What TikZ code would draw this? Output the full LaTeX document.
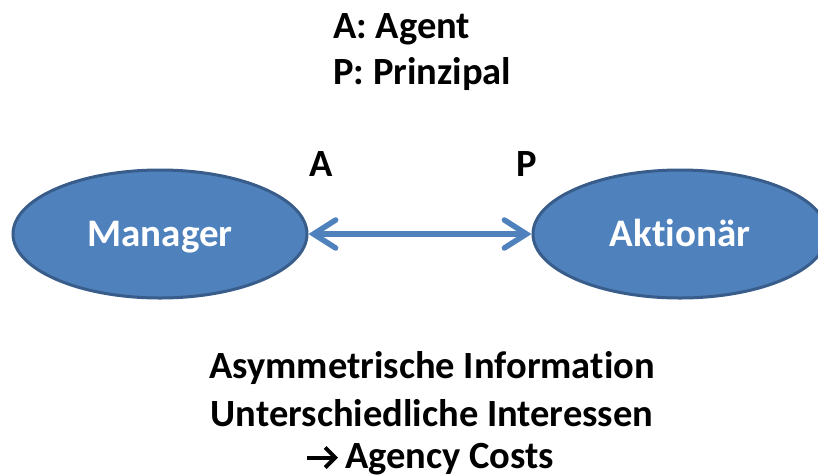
\documentclass[tikz,border=0pt]{standalone}
\usepackage{fontspec}
\setmainfont[Ligatures={NoCommon,NoRare}]{Carlito}
\usetikzlibrary{arrows.meta,shapes.geometric}
\definecolor{ofill}{HTML}{4F81BD}
\definecolor{oline}{HTML}{385D8A}
\tikzset{
  actor/.style={ellipse, draw=oline, line width=3pt, fill=ofill, minimum width=294pt, minimum height=128pt, inner sep=0pt, text=white, text height=25pt, text depth=0pt, font=\fontsize{39}{46}\selectfont\bfseries},
  lbl/.style={font=\fontsize{38.5}{46}\selectfont\bfseries, inner sep=0pt},
  link/.style={draw=ofill, line width=5.5pt, {Straight Barb[length=22pt,width=28pt,line cap=round]}-{Straight Barb[length=22pt,width=28pt,line cap=round]}},
  textarrow/.style={draw=black, line width=4pt, -{Straight Barb[length=10pt,width=20pt,line width=4pt]}}
}
\begin{document}
\begin{tikzpicture}[x=1pt,y=-1pt]
\useasboundingbox (0,0) rectangle (818,475);
\clip (0,0) rectangle (818,475);
\node[lbl, anchor=west] (la) at (333,29) {A: Agent};
\node[lbl, anchor=west] (lp) at (333,74) {P: Prinzipal};
\node[actor] (m) at (160,234) {Manager};
\node[actor] (ak) at (680,234) {Aktionär};
\node[lbl] (a) at (321,164) {A};
\node[lbl] (p) at (527,164) {P};
\draw[link] (m.east) -- (ak.west);
\node[lbl] (t1) at (432,368) {Asymmetrische Information};
\node[lbl] (t2) at (432,413) {Unterschiedliche Interessen};
\node[lbl, anchor=west] (t3) at (345,459) {Agency Costs};
\coordinate (arrs) at (307,457.5);
\coordinate (arre) at (338,457.5);
\draw[textarrow] (arrs) -- (arre);
\end{tikzpicture}
\end{document}
